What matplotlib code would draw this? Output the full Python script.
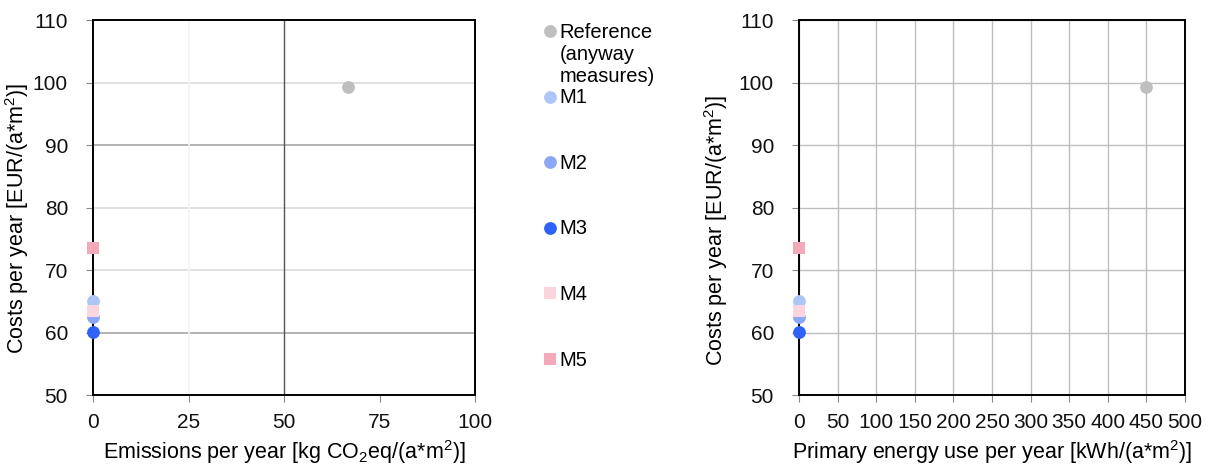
import matplotlib
matplotlib.use("Agg")
import matplotlib.pyplot as plt

plt.rcParams['font.family'] = ['Liberation Sans', 'DejaVu Sans']
plt.rcParams['mathtext.fontset'] = 'custom'
plt.rcParams['mathtext.rm'] = 'Liberation Sans'
plt.rcParams['mathtext.it'] = 'Liberation Sans:italic'

# data
names = ['Reference\n(anyway\nmeasures)', 'M1', 'M2', 'M3', 'M4', 'M5']
emissions = [66.7, 0, 0, 0, 0, 0]
energy = [450, 0, 0, 0, 0, 0]
costs = [99.3, 65.0, 62.5, 60.1, 63.4, 73.5]
markers = ['o', 'o', 'o', 'o', 's', 's']
colors = ['#bfbfbf', '#aec6f7', '#8aa8f7', '#2f63f7', '#fbd5dd', '#f4a9b9']

fig = plt.figure(figsize=(12.13, 4.65), dpi=100)
W, H = 1213, 465

ax1 = fig.add_axes([93 / W, 70 / H, 382 / W, 375 / H])
ax2 = fig.add_axes([799 / W, 70 / H, 386 / W, 375 / H])

tick_fs = 15
lab_fs = 15.5

for ax, xs in [(ax1, emissions), (ax2, energy)]:
    for x, y, m, c in zip(xs, costs, markers, colors):
        ax.scatter(x, y, marker=m, s=85, color=c, zorder=5, clip_on=False,
                   linewidths=0)
    ax.set_ylim(50, 110)
    ax.set_yticks(range(50, 111, 10))
    for s in ax.spines.values():
        s.set_color('black')
        s.set_linewidth(1.4)
    ax.tick_params(labelsize=tick_fs, colors='#888888', labelcolor='#111111',
                   length=5, width=0.8, pad=8)
    ax.tick_params(axis='y', pad=13)
    ax.set_ylabel('Costs per year [EUR/(a*m$^2$)]', fontsize=lab_fs)

# label positions as in the reference (slightly below the axes centre)
ax1.yaxis.set_label_coords(-0.163, 0.47)
ax2.yaxis.set_label_coords(-0.18, 0.44)

# left chart: Excel-like mixed gridlines
ax1.set_xlim(0, 100)
ax1.set_xticks([0, 25, 50, 75, 100])
for yv in [70, 80, 100]:
    ax1.axhline(yv, color='#dcdcdc', lw=1.2, zorder=1)
for yv in [60, 90]:
    ax1.axhline(yv, color='#a6a6a6', lw=1.2, zorder=1)
ax1.axvline(25, color='#f4f4f4', lw=1.2, zorder=1)
ax1.axvline(50, color='#555555', lw=1.0, zorder=1)
ax1.set_xlabel('Emissions per year [kg CO$_2$eq/(a*m$^2$)]', fontsize=lab_fs,
               labelpad=4)

# right chart: regular grid
ax2.set_xlim(0, 500)
ax2.set_xticks(range(0, 501, 50))
ax2.grid(True, color='#bdbdbd', lw=1.0, zorder=1)
ax2.set_axisbelow(True)
ax2.set_xlabel('Primary energy use per year [kWh/(a*m$^2$)]', fontsize=lab_fs,
               labelpad=4)

# legend column between the two charts
lax = fig.add_axes([535 / W, 85 / H, 130 / W, 360 / H])
lax.set_xlim(0, 1)
lax.set_ylim(5.32, -0.168)
lax.axis('off')
for i, (n, m, c) in enumerate(zip(names, markers, colors)):
    lax.scatter(0.115, i, marker=m, s=85, color=c, linewidths=0)
    lax.annotate(n, (0.19, i), xytext=(0, 6), textcoords='offset points',
                 fontsize=14.5, va='top', ha='left', linespacing=1.2)

fig.savefig('out.png', dpi=100)
